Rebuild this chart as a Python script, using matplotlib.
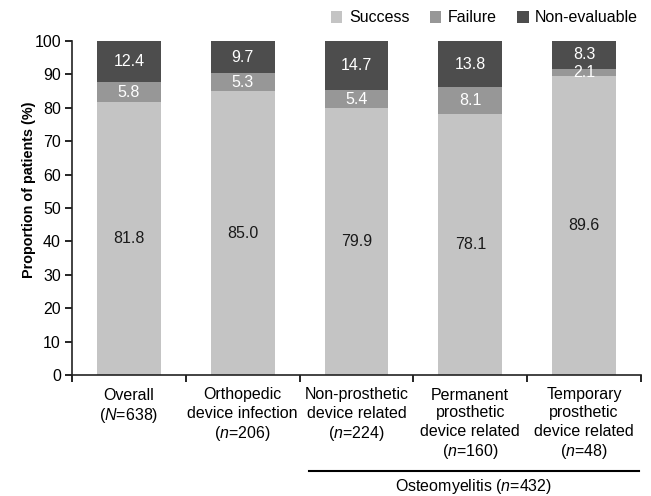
import matplotlib
matplotlib.use('Agg')
import matplotlib.pyplot as plt
from matplotlib.lines import Line2D
from matplotlib.patches import Patch
import numpy as np

plt.rcParams['font.family'] = ['Liberation Sans', 'DejaVu Sans']
plt.rcParams['mathtext.fontset'] = 'custom'
plt.rcParams['mathtext.rm'] = 'Liberation Sans'
plt.rcParams['mathtext.it'] = 'Liberation Sans:italic'

categories = ['Overall\n($\\it{N}$=638)',
              'Orthopedic\ndevice infection\n($\\it{n}$=206)',
              'Non-prosthetic\ndevice related\n($\\it{n}$=224)',
              'Permanent\nprosthetic\ndevice related\n($\\it{n}$=160)',
              'Temporary\nprosthetic\ndevice related\n($\\it{n}$=48)']
success = [81.8, 85.0, 79.9, 78.1, 89.6]
failure = [5.8, 5.3, 5.4, 8.1, 2.1]
non_eval = [12.4, 9.7, 14.7, 13.8, 8.3]
series_names = ['Success', 'Failure', 'Non-evaluable']
colors = ['#c4c4c4', '#979797', '#4d4d4d']
text_colors = ['#1a1a1a', 'white', 'white']
fs = 11.5

fig = plt.figure(figsize=(6.51, 4.96), dpi=100)
ax = fig.add_axes([72 / 651, 1 - 375 / 496, 569 / 651, 334 / 496])

x = np.arange(len(categories))
bottom = np.zeros(len(categories))
for vals, c, tc in zip([success, failure, non_eval], colors, text_colors):
    vals = np.array(vals)
    ax.bar(x, vals, 0.56, bottom=bottom, color=c, edgecolor='none')
    for xi, b, v in zip(x, bottom, vals):
        ax.text(xi, b + v / 2, f'{v:.1f}', ha='center', va='center',
                color=tc, fontsize=fs)
    bottom += vals

ax.set_xlim(-0.5, len(categories) - 0.5)
ax.set_ylim(0, 100)
ax.set_yticks(np.arange(0, 101, 10))
ax.set_xticks(x)
ax.set_xticklabels(categories, fontsize=fs, linespacing=1.25, va='top')
ax.tick_params(axis='x', length=0, pad=9)
ax.set_xticks(np.arange(-0.5, len(categories)), minor=True)
ax.tick_params(axis='x', which='minor', length=5, width=1.2, direction='out')
ax.tick_params(axis='y', length=5, width=1.2, labelsize=fs, pad=3)
for s in ['top', 'right']:
    ax.spines[s].set_visible(False)
for s in ['left', 'bottom']:
    ax.spines[s].set_linewidth(1.2)
    ax.spines[s].set_color('#222222')

# y label sits a little above the axis centre in the original
fig.text(29 / 651, 1 - 190 / 496, 'Proportion of patients (%)', rotation=90,
         ha='center', va='center', fontsize=10.4, fontweight='bold')

fig.add_artist(Line2D([309 / 651, 639 / 651], [1 - 471 / 496, 1 - 471 / 496],
                      color='black', lw=1.5, transform=fig.transFigure))
fig.text(474 / 651, 1 - 486 / 496, 'Osteomyelitis ($\\it{n}$=432)',
         ha='center', va='center', fontsize=fs)

handles = [Patch(facecolor=c, edgecolor='none') for c in colors]
fig.legend(handles, series_names, loc='center right', ncol=3, frameon=False,
           bbox_to_anchor=(638 / 651, 1 - 18 / 496), fontsize=fs,
           handlelength=0.7, handleheight=0.7, handletextpad=0.4,
           columnspacing=1.3, borderaxespad=0, borderpad=0)

fig.savefig('out.png', dpi=100, facecolor='white')
